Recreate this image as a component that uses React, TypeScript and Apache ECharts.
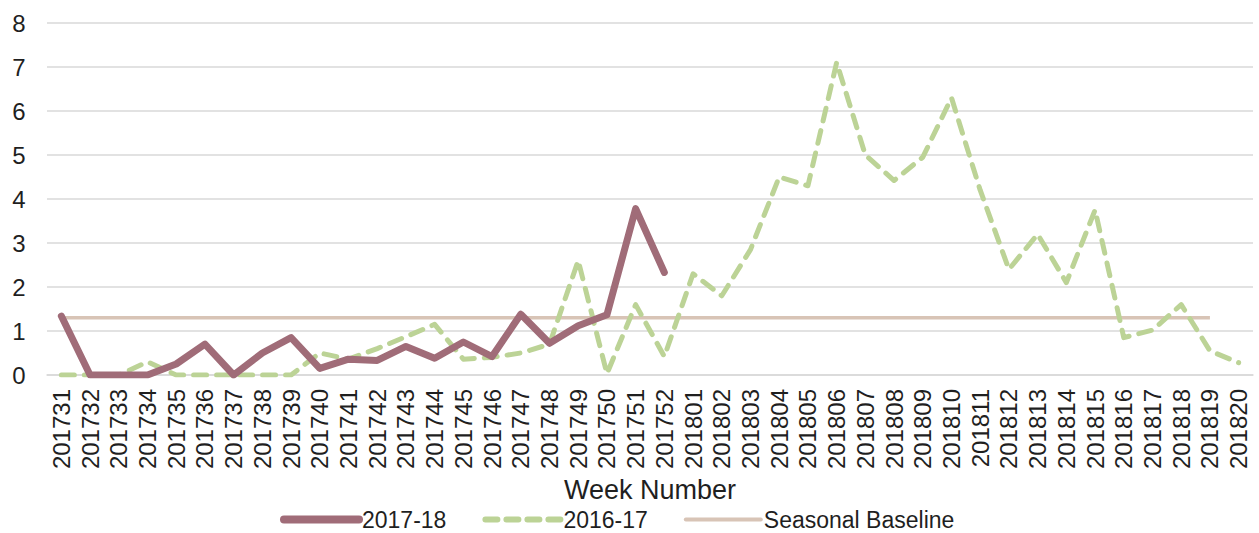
import React, { useEffect, useRef } from "react";
import * as echarts from "echarts";

const weeks = [
  "201731", "201732", "201733", "201734", "201735", "201736", "201737", "201738",
  "201739", "201740", "201741", "201742", "201743", "201744", "201745", "201746",
  "201747", "201748", "201749", "201750", "201751", "201752", "201801", "201802",
  "201803", "201804", "201805", "201806", "201807", "201808", "201809", "201810",
  "201811", "201812", "201813", "201814", "201815", "201816", "201817", "201818",
  "201819", "201820",
];

const season1718 = [
  1.34, 0, 0, 0, 0.25, 0.7, 0, 0.5, 0.85, 0.15, 0.36, 0.33, 0.65, 0.38, 0.75, 0.42,
  1.38, 0.72, 1.12, 1.37, 3.78, 2.33,
];

const season1617 = [
  0, 0, 0, 0.3, 0, 0, 0, 0, 0, 0.5, 0.36, 0.6, 0.87, 1.15, 0.36, 0.4,
  0.5, 0.7, 2.6, 0.03, 1.6, 0.42, 2.3, 1.8, 2.85, 4.5, 4.3, 7.1, 5.0, 4.42,
  4.95, 6.3, 4.2, 2.4, 3.2, 2.1, 3.75, 0.85, 1.02, 1.6, 0.55, 0.28,
];

const baseline = [
  1.3, 1.3, 1.3, 1.3, 1.3, 1.3, 1.3, 1.3, 1.3, 1.3, 1.3, 1.3, 1.3, 1.3, 1.3, 1.3,
  1.3, 1.3, 1.3, 1.3, 1.3, 1.3, 1.3, 1.3, 1.3, 1.3, 1.3, 1.3, 1.3, 1.3, 1.3, 1.3,
  1.3, 1.3, 1.3, 1.3, 1.3, 1.3, 1.3, 1.3, 1.3, null,
];

const legendNames = ["2017-18", "2016-17", "Seasonal Baseline"];

const FONT = "Liberation Sans";
const TEXT = "#1f1f1f";
const MAUVE = "#A06C78";
const GREEN = "#BCD396";
const BEIGE = "#D8C4B6";

export default function App() {
  const ref = useRef<HTMLDivElement>(null);
  useEffect(() => {
    if (!ref.current) return;
    const chart = echarts.init(ref.current, undefined, { renderer: "svg" });
    chart.setOption({
      animation: false,
      grid: { left: 47, right: 6, top: 23, bottom: 158, containLabel: false },
      legend: {
        top: 508,
        left: 280,
        itemWidth: 75,
        itemHeight: 12,
        itemGap: 36,
        padding: 0,
        itemStyle: { opacity: 0 },
        textStyle: { fontFamily: FONT, fontSize: 23, color: TEXT, padding: [0, 0, 0, -2] },
        data: [
          { name: legendNames[0], lineStyle: { width: 8, color: MAUVE, cap: "round" } },
          {
            name: legendNames[1],
            lineStyle: { width: 6, color: GREEN, type: [12, 9], cap: "round" },
          },
          { name: legendNames[2], lineStyle: { width: 4, color: BEIGE, cap: "round" } },
        ],
      },
      xAxis: {
        type: "category",
        data: weeks,
        boundaryGap: true,
        name: "Week Number",
        nameLocation: "middle",
        nameGap: 97,
        nameTextStyle: { fontFamily: FONT, fontSize: 27, color: TEXT },
        axisLine: { lineStyle: { color: "#D9D9D9", width: 1.5 } },
        axisTick: { show: false },
        axisLabel: {
          rotate: 90,
          interval: 0,
          margin: 14,
          fontFamily: FONT,
          fontSize: 24,
          color: TEXT,
        },
      },
      yAxis: {
        type: "value",
        min: 0,
        max: 8,
        interval: 1,
        axisLine: { show: false },
        axisTick: { show: false },
        splitLine: { lineStyle: { color: "#D9D9D9", width: 1.5 } },
        axisLabel: {
          margin: 28,
          fontFamily: FONT,
          fontSize: 24,
          color: TEXT,
          align: "center",
        },
      },
      series: [
        {
          name: legendNames[2],
          type: "line",
          data: baseline,
          symbol: "none",
          z: 1,
          lineStyle: { color: BEIGE, width: 3.5 },
          itemStyle: { color: BEIGE },
        },
        {
          name: legendNames[1],
          type: "line",
          data: season1617,
          symbol: "none",
          z: 2,
          lineStyle: {
            color: GREEN,
            width: 5,
            type: [13, 10],
            cap: "round",
            join: "round",
          },
          itemStyle: { color: GREEN },
        },
        {
          name: legendNames[0],
          type: "line",
          data: season1718,
          symbol: "none",
          z: 3,
          lineStyle: { color: MAUVE, width: 7, cap: "round", join: "round" },
          itemStyle: { color: MAUVE },
        },
      ],
    });
    return () => chart.dispose();
  }, []);
  return (
    <div
      ref={ref}
      style={{ position: "fixed", left: 0, top: 0, width: 1259, height: 533, background: "#fff" }}
    />
  );
}
